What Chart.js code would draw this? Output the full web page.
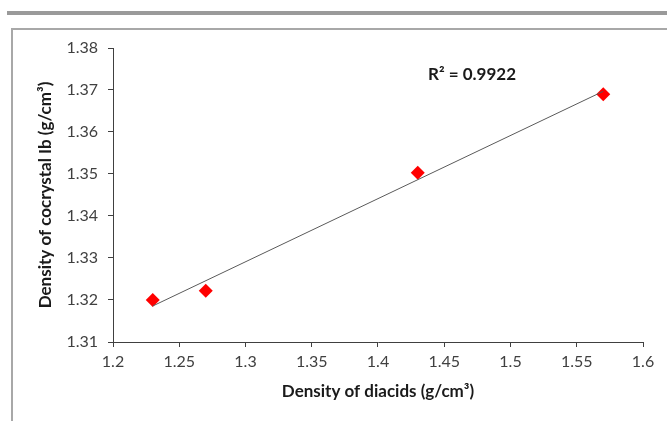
<!DOCTYPE html>
<html>
<head>
<meta charset="utf-8">
<script src="https://cdn.jsdelivr.net/npm/chart.js@4"></script>
<style>
    html, body { margin: 0; padding: 0; background: #fff; }
    body { width: 667px; height: 421px; position: relative; overflow: hidden; }
    #topBar { position: absolute; left: 7px; top: 11px; width: 660px; height: 4px; background: #9a9a9a; }
    #frame { position: absolute; left: 11px; top: 28px; width: 670px; height: 400px;
             border-left: 2px solid #a8a8a8; border-top: 2px solid #a8a8a8; }
    #chartWrap { position: absolute; left: 0; top: 0; width: 667px; height: 421px; }
</style>
</head>
<body>
<div id="topBar"></div>
<div id="frame"></div>
<div id="chartWrap"><canvas id="densityChart"></canvas></div>
<script>
const diacidDensity = [1.23, 1.27, 1.43, 1.57];
const cocrystalDensity = [1.320, 1.3222, 1.3503, 1.369];
const xTicks = [1.2, 1.25, 1.3, 1.35, 1.4, 1.45, 1.5, 1.55, 1.6];
const yTicks = [1.31, 1.32, 1.33, 1.34, 1.35, 1.36, 1.37, 1.38];
const rSquaredLabel = 'R² = 0.9922';

// least squares fit for the trendline
function linearFit(xs, ys) {
    const n = xs.length;
    const mx = xs.reduce((a, b) => a + b, 0) / n;
    const my = ys.reduce((a, b) => a + b, 0) / n;
    let sxy = 0, sxx = 0;
    for (let i = 0; i < n; i++) {
        sxy += (xs[i] - mx) * (ys[i] - my);
        sxx += (xs[i] - mx) * (xs[i] - mx);
    }
    const slope = sxy / sxx;
    return x => my + slope * (x - mx);
}

const fit = linearFit(diacidDensity, cocrystalDensity);
const xMin = Math.min(...diacidDensity);
const xMax = Math.max(...diacidDensity);
const trendPoints = [{ x: xMin, y: fit(xMin) }, { x: xMax, y: fit(xMax) }];

const labelPlugin = {
    id: 'rSquared',
    afterDatasetsDraw(chart) {
        const ctx = chart.ctx;
        const x = chart.scales.x.getPixelForValue(1.4377);
        const y = chart.scales.y.getPixelForValue(1.3736);
        ctx.save();
        ctx.font = 'bold 17px Lato';
        ctx.fillStyle = '#1a1a1a';
        ctx.textAlign = 'left';
        ctx.textBaseline = 'middle';
        ctx.fillText(rSquaredLabel, x, y);
        ctx.restore();
    }
};

const axisColor = '#404040';

new Chart(document.getElementById('densityChart').getContext('2d'), {
    type: 'scatter',
    data: {
        datasets: [{
            type: 'line',
            data: trendPoints,
            borderColor: '#5a5a5a',
            borderWidth: 1,
            pointRadius: 0,
            fill: false
        }, {
            data: diacidDensity.map((x, i) => ({ x: x, y: cocrystalDensity[i] })),
            pointStyle: 'rectRot',
            pointRadius: 7,
            backgroundColor: '#ff0000',
            borderColor: '#ff0000',
            borderWidth: 0
        }]
    },
    options: {
        responsive: true,
        maintainAspectRatio: false,
        animation: false,
        layout: { padding: { left: 0, top: 48, right: 24, bottom: 0 } },
        plugins: {
            legend: { display: false },
            tooltip: { enabled: false }
        },
        scales: {
            x: {
                type: 'linear',
                min: 1.2,
                max: 1.6,
                afterBuildTicks: scale => { scale.ticks = xTicks.map(v => ({ value: v })); },
                afterFit: scale => { scale.height = 79; },
                ticks: {
                    color: '#404040',
                    font: { family: 'Lato', size: 16 },
                    padding: 5,
                    maxRotation: 0,
                    callback: v => String(v)
                },
                grid: { drawOnChartArea: false, drawTicks: true, tickLength: 5, color: axisColor },
                border: { display: true, color: axisColor, width: 1 },
                title: {
                    display: true,
                    text: 'Density of diacids (g/cm³)',
                    color: '#1a1a1a',
                    font: { family: 'Lato', size: 17, weight: 'bold' },
                    padding: { top: 0, bottom: 19 }
                }
            },
            y: {
                type: 'linear',
                min: 1.31,
                max: 1.38,
                afterBuildTicks: scale => { scale.ticks = yTicks.map(v => ({ value: v })); },
                afterFit: scale => { scale.width = 113; },
                ticks: {
                    color: '#404040',
                    font: { family: 'Lato', size: 16 },
                    padding: 10,
                    callback: v => v.toFixed(2)
                },
                grid: { drawOnChartArea: false, drawTicks: true, tickLength: 5, color: axisColor },
                border: { display: true, color: axisColor, width: 1 },
                title: {
                    display: true,
                    text: 'Density of cocrystal Ib (g/cm³)',
                    color: '#1a1a1a',
                    font: { family: 'Lato', size: 17, weight: 'bold' },
                    padding: { top: 35, bottom: 0 }
                }
            }
        }
    },
    plugins: [labelPlugin]
});
</script>
</body>
</html>
